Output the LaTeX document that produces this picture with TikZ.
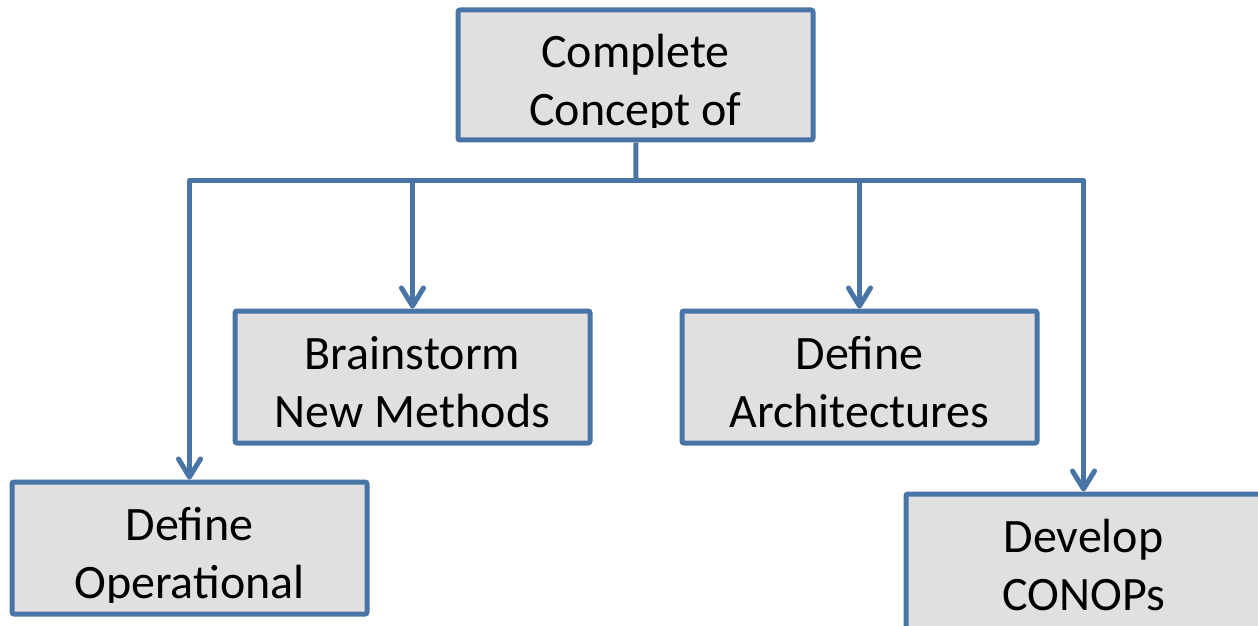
\documentclass[tikz,border=0pt]{standalone}
\usepackage{fontspec}
\setmainfont{Carlito}
\usetikzlibrary{arrows.meta}
\definecolor{boxline}{RGB}{72,117,166}
\definecolor{boxfill}{RGB}{224,224,224}
\tikzset{
  box/.style 2 args={draw=boxline, fill=boxfill, line width=2.5pt, rounded corners=1pt,
    minimum width=177.5pt, minimum height=66pt, inner sep=0pt,
    path picture={
      \clip (path picture bounding box.north west) rectangle ([yshift=6pt]path picture bounding box.south east);
      \node[anchor=base, inner sep=0pt] at ([yshift=-29pt]path picture bounding box.north) {#1};
      \node[anchor=base, inner sep=0pt] at ([yshift=-58pt]path picture bounding box.north) {#2};}},
  link/.style={draw=boxline, line width=2.5pt, line join=round}
}
\begin{document}
\begin{tikzpicture}[x=0.5pt, y=-0.5pt, font=\fontsize{24}{29}\selectfont,
          >={Straight Barb[length=9pt, width=11pt, round]}]
        \useasboundingbox (0,0) rectangle (1258,626);
        \node[box={Complete}{Concept of}, minimum height=65pt] (concept) at (635.5,75) {};
        \node[box={Brainstorm}{New Methods}] (brainstorm) at (412.5,377) {};
        \node[box={Define}{Architectures}] (arch) at (859.5,377) {};
        \node[box={Define}{Operational}] (oper) at (189.5,548) {};
        \node[box={Develop}{CONOPs}, minimum height=70pt] (conops) at (1083.5,564) {};
        \coordinate (hub) at (636,180);
        \draw[link] (concept) -- (hub);
        \foreach \n in {oper,brainstorm,arch,conops}
          \draw[link,->] (hub) -| (\n);
      \end{tikzpicture}
\end{document}
